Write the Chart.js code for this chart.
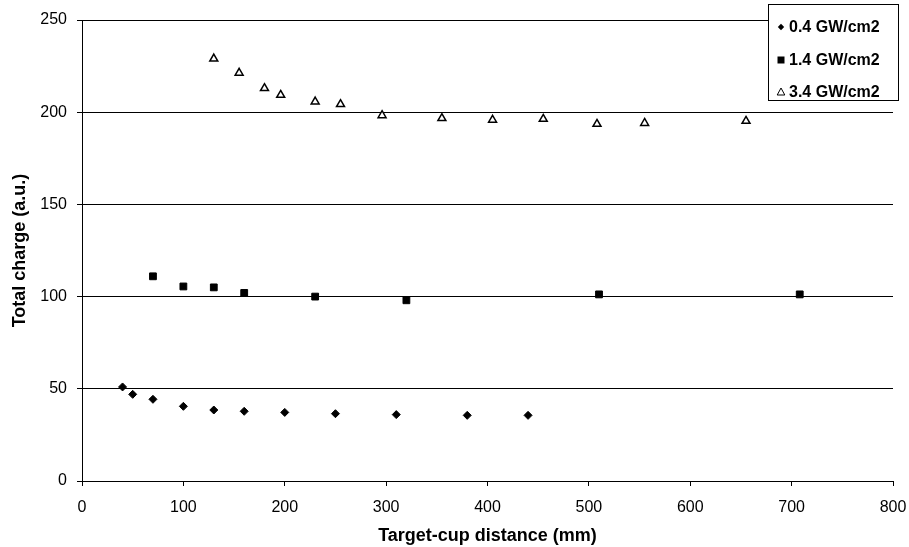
<!DOCTYPE html>
<html>
<head>
<meta charset="utf-8">
<script src="https://cdn.jsdelivr.net/npm/chart.js@4/dist/chart.umd.min.js"></script>
<style>
html,body{margin:0;padding:0;background:#fff;}
#wrap{width:909px;height:547px;position:relative;}
</style>
</head>
<body>
<div id="wrap"><canvas id="c" width="909" height="547"></canvas></div>
<script>
// Data
const seriesNames = ["0.4 GW/cm2", "1.4 GW/cm2", "3.4 GW/cm2"];
const lowX = [40, 50, 70, 100, 130, 160, 200, 250, 310, 380, 440];
const lowY = [51, 47, 44.3, 40.5, 38.5, 37.8, 37.2, 36.5, 36, 35.6, 35.6];
const midX = [70, 100, 130, 160, 230, 320, 510, 708];
const midY = [111, 105.5, 105, 102, 100, 98, 101.2, 101.2];
const highX = [130, 155, 180, 196, 230, 255, 296, 355, 405, 455, 508, 555, 655];
const highY = [229, 221.3, 213, 209.3, 205.7, 204.3, 198.3, 196.7, 195.8, 196.3, 193.6, 194.1, 195.2];
const xTicks = [0, 100, 200, 300, 400, 500, 600, 700, 800];
const yTicks = [0, 50, 100, 150, 200, 250];

const toPts = (xs, ys) => xs.map((x, i) => ({x: x, y: ys[i]}));
const FONT = "'Liberation Sans', Arial, sans-serif";

const legendPlugin = {
  id: 'boxLegend',
  afterDatasetsDraw(chart) {
    const ctx = chart.ctx, a = chart.chartArea;
    const w = 130, h = 96;
    const x0 = a.right + 5 - w, y0 = a.top - 16;
    ctx.save();
    ctx.fillStyle = '#fff';
    ctx.fillRect(x0, y0, w, h);
    ctx.strokeStyle = '#000';
    ctx.lineWidth = 1;
    ctx.strokeRect(x0 + 0.5, y0 + 0.5, w, h);
    const offs = [23, 56, 88];
    chart.data.datasets.forEach((ds, i) => {
      const cy = y0 + offs[i];
      const mx = x0 + 13;
      ctx.fillStyle = '#000';
      ctx.strokeStyle = '#000';
      ctx.lineWidth = 1;
      ctx.beginPath();
      if (ds.pointStyle === 'rectRot') {
        const r = 3.2;
        ctx.moveTo(mx - r, cy); ctx.lineTo(mx, cy - r); ctx.lineTo(mx + r, cy); ctx.lineTo(mx, cy + r);
        ctx.closePath(); ctx.fill();
      } else if (ds.pointStyle === 'rect') {
        ctx.rect(mx - 3.5, cy - 3.5, 7, 7); ctx.fill();
      } else {
        ctx.moveTo(mx, cy - 4); ctx.lineTo(mx + 3.8, cy + 3); ctx.lineTo(mx - 3.8, cy + 3);
        ctx.closePath(); ctx.stroke();
      }
      ctx.fillStyle = '#000';
      ctx.font = "bold 16px " + FONT;
      ctx.textBaseline = 'middle';
      ctx.textAlign = 'left';
      ctx.fillText(ds.label, x0 + 21, cy + 1);
    });
    ctx.restore();
  }
};

new Chart(document.getElementById('c'), {
  type: 'scatter',
  data: {
    datasets: [
      {label: seriesNames[0], data: toPts(lowX, lowY), pointStyle: 'rectRot', pointRadius: 4,
       backgroundColor: '#000', borderColor: '#000', borderWidth: 1},
      {label: seriesNames[1], data: toPts(midX, midY), pointStyle: 'rect', pointRadius: 4.8,
       backgroundColor: '#000', borderColor: '#000', borderWidth: 1},
      {label: seriesNames[2], data: toPts(highX, highY), pointStyle: 'triangle', pointRadius: 4.6,
       backgroundColor: '#fff', borderColor: '#000', borderWidth: 1.5}
    ]
  },
  options: {
    responsive: false,
    animation: false,
    devicePixelRatio: 1,
    layout: {padding: {left: 0, right: 16, top: 20, bottom: 0}},
    plugins: {legend: {display: false}, tooltip: {enabled: false}},
    elements: {point: {hoverRadius: 4}},
    scales: {
      x: {
        type: 'linear', min: 0, max: 800,
        afterBuildTicks: s => { s.ticks = xTicks.map(v => ({value: v})); },
        afterFit: s => { s.height = 66; s.paddingRight = 0; s.paddingLeft = 0; },
        ticks: {color: '#000', font: {family: FONT, size: 16}, padding: 12, maxRotation: 0},
        grid: {drawOnChartArea: false, drawTicks: true, tickLength: 5, color: '#000'},
        border: {color: '#000', width: 1},
        title: {display: true, text: 'Target-cup distance (mm)', color: '#000',
                font: {family: FONT, size: 18, weight: 'bold'}, padding: {top: 0, bottom: 0}}
      },
      y: {
        type: 'linear', min: 0, max: 250,
        afterBuildTicks: s => { s.ticks = yTicks.map(v => ({value: v})); },
        afterFit: s => { s.width = 82; s.paddingTop = 0; s.paddingBottom = 0; },
        ticks: {color: '#000', font: {family: FONT, size: 16}, padding: 10},
        grid: {color: '#000', tickLength: 5, lineWidth: 1},
        border: {color: '#000', width: 1},
        title: {display: true, text: 'Total charge (a.u.)', color: '#000',
                font: {family: FONT, size: 18, weight: 'bold'}, padding: {top: 9, bottom: 10}}
      }
    }
  },
  plugins: [legendPlugin]
});
</script>
</body>
</html>
